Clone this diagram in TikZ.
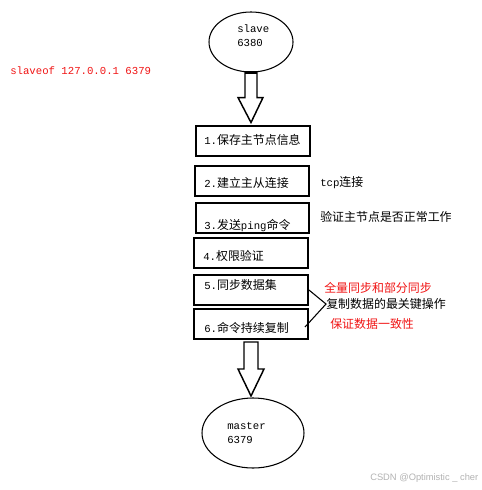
\documentclass[tikz,border=0pt]{standalone}
\usepackage{fontspec}
\setmonofont{Liberation Mono}
\setsansfont{Liberation Sans}
\newfontfamily\cjk[Scale=1.12]{Noto Sans CJK SC}
\newcommand\zh[1]{{\cjk #1}}
\usetikzlibrary{shapes.geometric,calc}
\definecolor{redtext}{RGB}{240,20,20}
\begin{document}
\begin{tikzpicture}[x=0.75pt,y=-0.75pt,
 lbl/.style={anchor=west, inner sep=0pt, font=\ttfamily\fontsize{8}{10}\selectfont},
 stepbox/.style={draw, line width=1.4pt, minimum height=30*0.75pt, inner sep=0pt},
 oval/.style={draw, ellipse, line width=0.8pt, inner sep=0pt},
 blockarrow/.style={draw, line width=1.1pt, line join=miter, fill=white},
 bracket/.style={draw, line width=0.8pt},
 redlbl/.style={lbl, text=redtext}]
\useasboundingbox (0,0) rectangle (482,490);
% ellipses
\node[oval, minimum width=84*0.75pt, minimum height=60*0.75pt] (slave) at (251,42) {};
\node[lbl] (slavet) at (237,29) {slave};
\node[lbl] (slaven) at (237,43) {6380};
\node[oval, minimum width=102*0.75pt, minimum height=70*0.75pt] (master) at (253,433) {};
\node[lbl] (mastert) at (227,426) {master};
\node[lbl] (mastern) at (227,440) {6379};
% command
\node[redlbl] (cmd) at (10,71) {slaveof 127.0.0.1 6379};
% boxes
\node[stepbox, minimum width=114*0.75pt] (b1) at (253,141) {};
\node[stepbox, minimum width=114*0.75pt] (b2) at (252,181) {};
\node[stepbox, minimum width=113*0.75pt] (b3) at (252.5,218) {};
\node[stepbox, minimum width=114*0.75pt] (b4) at (251,253) {};
\node[stepbox, minimum width=114*0.75pt] (b5) at (251,290) {};
\node[stepbox, minimum width=114*0.75pt] (b6) at (251,324) {};
\node[lbl] (t1) at (204,140) {1.\zh{保存主节点信息}};
\node[lbl] (t2) at (204,183) {2.\zh{建立主从连接}};
\node[lbl] (t3) at (204,226) {3.\zh{发送}ping\zh{命令}};
\node[lbl] (t4) at (203,256) {4.\zh{权限验证}};
\node[lbl] (t5) at (204,285) {5.\zh{同步数据集}};
\node[lbl] (t6) at (204,328) {6.\zh{命令持续复制}};
% side notes
\node[lbl] (n2) at (320,183) {tcp\zh{连接}};
\node[lbl] (n3) at (320,217) {\zh{验证主节点是否正常工作}};
\node[redlbl] (n5a) at (324,288) {\zh{全量同步和部分同步}};
\coordinate (bj) at (326,304);
\node[lbl] (n5b) at (bj) {\zh{复制数据的最关键操作}};
\node[redlbl] (n6) at (330,324) {\zh{保证数据一致性}};
\coordinate (b6end) at (305,327);
\draw[bracket] (b5.east) -- (bj) -- (b6end);
% block arrows
\coordinate (a1) at (slave.south);
\draw[blockarrow] ($(a1)+(-6,0)$) -- ($(a1)+(-6,25)$) -- ($(a1)+(-13,25)$) -- ($(a1)+(0,50)$) -- ($(a1)+(12,25)$) -- ($(a1)+(6,25)$) -- ($(a1)+(6,0)$) -- cycle;
\draw[line width=2pt] ($(a1)+(-6,0)$) -- ($(a1)+(6,0)$);
\coordinate (a2) at (251,342);
\draw[blockarrow] ($(a2)+(-7,0)$) -- ($(a2)+(-7,27)$) -- ($(a2)+(-13,27)$) -- ($(a2)+(0,54)$) -- ($(a2)+(13,27)$) -- ($(a2)+(7,27)$) -- ($(a2)+(7,0)$) -- cycle;
% watermark
\node[anchor=west, inner sep=0pt, text=gray!60, font=\sffamily\fontsize{7}{8}\selectfont] (wm) at (370,478) {CSDN @Optimistic \_ cher};
\end{tikzpicture}
\end{document}
